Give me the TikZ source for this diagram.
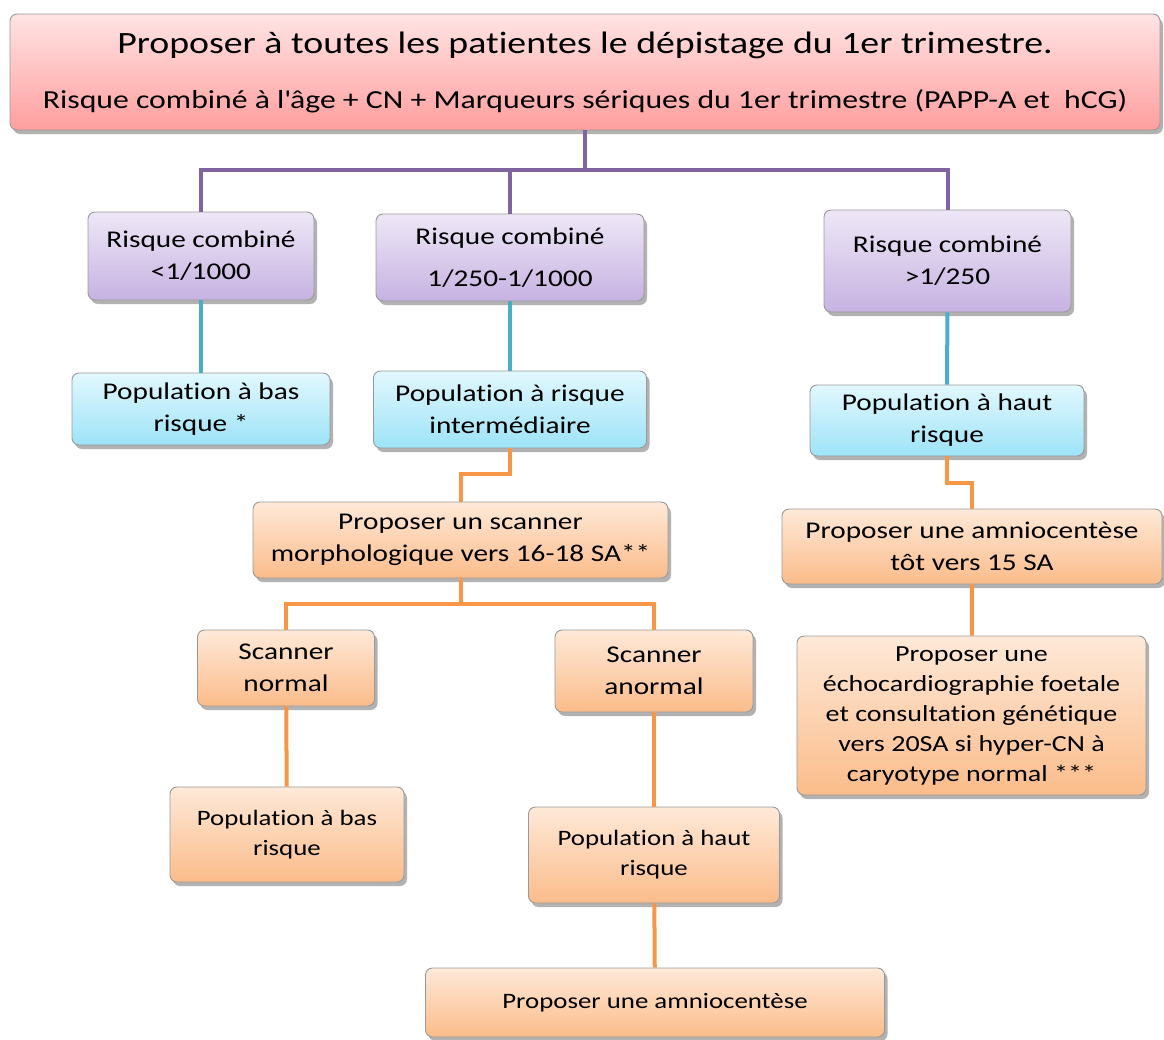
\documentclass[tikz,border=0pt]{standalone}
\usepackage{fontspec}
\setmainfont{Carlito}[FakeStretch=1.22, Ligatures=NoCommon]
\usetikzlibrary{shadows}

\definecolor{pinkA}{HTML}{FFE4E4}
\definecolor{pinkB}{HTML}{FF9E9E}
\definecolor{lilacA}{HTML}{EEE7F7}
\definecolor{lilacB}{HTML}{C6B2E1}
\definecolor{cyanA}{HTML}{E2F8FE}
\definecolor{cyanB}{HTML}{9DE3F7}
\definecolor{apricotA}{HTML}{FEE9D8}
\definecolor{apricotB}{HTML}{FBBC8A}
\definecolor{purpleline}{HTML}{8064A2}
\definecolor{cyanline}{HTML}{4BACC6}
\definecolor{orangeline}{HTML}{F79646}

\tikzset{
  box/.style={rectangle, rounded corners=7pt, draw=gray!80, line width=0.9pt,
    align=center, inner sep=0pt, font=\fontsize{24}{32}\selectfont,
    drop shadow={shadow xshift=3pt, shadow yshift=-4pt, opacity=0.3, fill=black}},
  headbox/.style={box, top color=pinkA, bottom color=pinkB},
  riskbox/.style={box, top color=lilacA, bottom color=lilacB},
  popbox/.style={box, top color=cyanA, bottom color=cyanB},
  actbox/.style={box, top color=apricotA, bottom color=apricotB},
  link/.style={line width=4pt},
}

\begin{document}
\begin{tikzpicture}[x=1pt, y=-1pt]
    \useasboundingbox (0,0) rectangle (1164,1039);

    % Screening
    \node[headbox, minimum width=1150pt, minimum height=116pt, font=\fontsize{26}{55}\selectfont] (screen) at (585,72)
        {{\fontsize{31}{55}\selectfont Proposer à toutes les patientes le dépistage du 1er trimestre.}\\
         Risque combiné à l\textquotesingle âge + CN + Marqueurs sériques du 1er trimestre (PAPP-A et~~hCG)};

    % Combined risk
    \node[riskbox, minimum width=226pt, minimum height=88pt] (rlow) at (201,256) {Risque combiné\\<1/1000};
    \node[riskbox, minimum width=268pt, minimum height=87pt, font=\fontsize{24}{42}\selectfont] (rmid) at (510,257.5) {Risque combiné\\1/250-1/1000};
    \node[riskbox, minimum width=247pt, minimum height=102pt] (rhigh) at (947.5,261) {Risque combiné\\>1/250};

    % Populations
    \node[popbox, minimum width=258pt, minimum height=72pt] (plow) at (201,409) {Population à bas\\risque *};
    \node[popbox, minimum width=273pt, minimum height=77pt] (pmid) at (510,409.5) {Population à risque\\intermédiaire};
    \node[popbox, minimum width=274pt, minimum height=71pt] (phigh) at (947,420.5) {Population à haut\\risque};

    % Intermediate risk
    \node[actbox, minimum width=415pt, minimum height=76pt] (morpho) at (460.5,540) {Proposer un scanner\\morphologique vers 16-18 SA**};
    \node[actbox, minimum width=177pt, minimum height=76pt] (snormal) at (286,668) {Scanner\\normal};
    \node[actbox, minimum width=198pt, minimum height=82pt] (sabnormal) at (654,671) {Scanner\\anormal};
    \node[actbox, minimum width=234pt, minimum height=95pt, font=\fontsize{22}{30}\selectfont] (plowb) at (287,834.5) {Population à bas\\risque};
    \node[actbox, minimum width=251pt, minimum height=96pt, font=\fontsize{22}{30}\selectfont] (phighb) at (654,855) {Population à haut\\risque};
    \node[actbox, minimum width=459pt, minimum height=69pt, font=\fontsize{22}{30}\selectfont] (amnio) at (655,1002.5) {Proposer une amniocentèse};

    % High risk
    \node[actbox, minimum width=380pt, minimum height=75pt] (amnioearly) at (972,546.5) {Proposer une amniocentèse\\tôt vers 15 SA};
    \node[actbox, minimum width=349pt, minimum height=159pt, font=\fontsize{23}{30}\selectfont] (echo) at (971.5,715.5)
        {Proposer une\\échocardiographie foetale\\et consultation génétique\\vers 20SA si hyper-CN à\\caryotype normal ***};

    % Links
    \draw[link, purpleline] (screen.south) -- ++(0,40) coordinate (fork) -| (rlow.north);
    \draw[link, purpleline] (fork) -| (rmid.north);
    \draw[link, purpleline] (fork) -| (rhigh.north);

    \draw[link, cyanline] (rlow) -- (plow);
    \draw[link, cyanline] (rmid) -- (pmid);
    \draw[link, cyanline] (rhigh) -- (phigh);

    \draw[link, orangeline] (pmid.south) -- ++(0,26) -| (morpho.north);
    \draw[link, orangeline] (morpho.south) -- ++(0,26) coordinate (split) -| (snormal.north);
    \draw[link, orangeline] (split) -| (sabnormal.north);
    \draw[link, orangeline] (snormal) -- (plowb);
    \draw[link, orangeline] (sabnormal) -- (phighb);
    \draw[link, orangeline] (phighb) -- (amnio);
    \draw[link, orangeline] (phigh.south) -- ++(0,27) -| (amnioearly.north);
    \draw[link, orangeline] (amnioearly) -- (echo);
\end{tikzpicture}
\end{document}
